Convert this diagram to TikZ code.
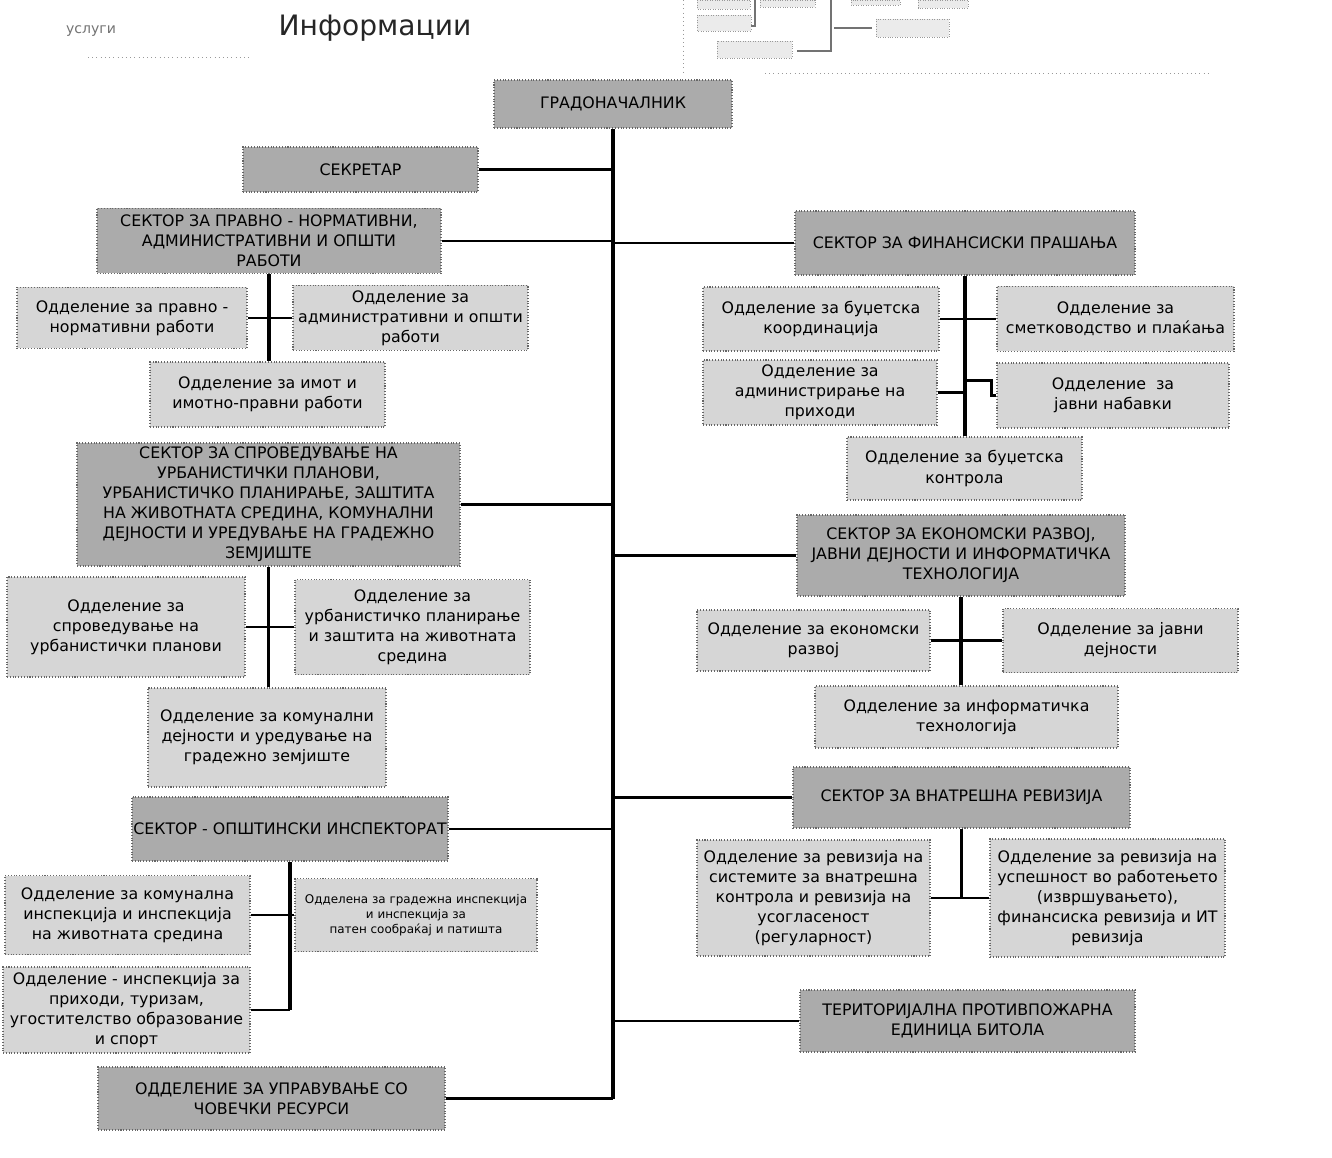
\documentclass[tikz,border=0pt]{standalone}
\usepackage{fontspec}
\setmainfont{DejaVu Sans}
\usetikzlibrary{calc}

\tikzset{
  boxsize/.style 2 args={minimum width=#1*0.02cm, minimum height=#2*0.02cm},
  unit/.style={draw=black!60, densely dotted, line width=0.6pt, inner sep=0pt,
    align=center, font=\fontsize{9}{11.4}\selectfont},
  sector/.style={unit, fill=black!33},
  dept/.style={unit, fill=black!16},
  trunk/.style={line width=1.8pt},
  link/.style={line width=1.4pt},
  scrap/.style={draw=black!40, densely dotted, fill=black!8, line width=0.4pt},
}

\begin{document}
\begin{tikzpicture}[x=0.02cm, y=-0.02cm]
    \useasboundingbox (0,0) rectangle (1332,1158);
    % Page header
    \node[text=black!55, font=\fontsize{8}{9}\selectfont] (services) at (91,31) {услуги};
    \node[text=black!85, font=\fontsize{16}{19}\selectfont] (info) at (375,28) {Информации};
    \draw[black!40, dotted] (88,57) -- (250,57);
    \draw[black!40, dotted] (683,0) -- (683,72);
    \draw[black!40, dotted] (765,73) -- (1210,73);
    % Cut-off chart fragment at the top
    \draw[scrap] (697,0) rectangle (750,9);
    \draw[scrap] (760,0) rectangle (815,7);
    \draw[scrap] (851,0) rectangle (900,5);
    \draw[scrap] (918,0) rectangle (968,8);
    \draw[scrap] (697,15) rectangle (751,31);
    \draw[scrap] (717,41) rectangle (792,58);
    \draw[scrap] (876,19) rectangle (949,37);
    \draw[black!55, line width=0.8pt] (755,0) -- (755,26) -- (751,26);
    \draw[black!55, line width=0.8pt] (831,0) -- (831,51) -- (797,51);
    \draw[black!55, line width=0.8pt] (834,28) -- (872,28);

    % Mayor and secretary
    \node[sector, boxsize={238}{48}] (mayor) at (613,104) {ГРАДОНАЧАЛНИК};
    \node[sector, boxsize={235}{45}] (secretary) at (360.5,169.5) {СЕКРЕТАР};

    % Legal sector
    \node[sector, boxsize={344}{65}] (legal) at (269,241) {СЕКТОР ЗА ПРАВНО - НОРМАТИВНИ,\\АДМИНИСТРАТИВНИ И ОПШТИ\\РАБОТИ};
    \node[dept, boxsize={230}{61}] (legalnorm) at (132,318) {Одделение за правно -\\нормативни работи};
    \node[dept, boxsize={235}{65}] (adminwork) at (410.5,318) {Одделение за\\административни и општи\\работи};
    \node[dept, boxsize={235}{65}] (property) at (267.5,394.5) {Одделение за имот и\\имотно-правни работи};

    % Finance sector
    \node[sector, boxsize={340}{64}] (finance) at (965,243) {СЕКТОР ЗА ФИНАНСИСКИ ПРАШАЊА};
    \node[dept, boxsize={236}{64}] (budgetco) at (821,319) {Одделение за буџетска\\координација};
    \node[dept, boxsize={237}{65}] (accounting) at (1115.5,319) {Одделение за\\сметководство и плаќања};
    \node[dept, boxsize={234}{65}] (revenue) at (820,392.5) {Одделение за\\администрирање на\\приходи};
    \node[dept, boxsize={232}{65}] (procure) at (1113,395.5) {Одделение \ за\\јавни набавки};
    \node[dept, boxsize={235}{63}] (budgetctl) at (964.5,468.5) {Одделение за буџетска\\контрола};

    % Urban planning sector
    \node[sector, boxsize={383}{123}] (urban) at (268.5,504.5) {СЕКТОР ЗА СПРОВЕДУВАЊЕ НА\\УРБАНИСТИЧКИ ПЛАНОВИ,\\УРБАНИСТИЧКО ПЛАНИРАЊЕ, ЗАШТИТА\\НА ЖИВОТНАТА СРЕДИНА, КОМУНАЛНИ\\ДЕЈНОСТИ И УРЕДУВАЊЕ НА ГРАДЕЖНО\\ЗЕМЈИШТЕ};
    \node[dept, boxsize={238}{100}] (urbimpl) at (126,627) {Одделение за\\спроведување на\\урбанистички планови};
    \node[dept, boxsize={235}{95}] (urbplan) at (412.5,627) {Одделение за\\урбанистичко планирање\\и заштита на животната\\средина};
    \node[dept, boxsize={238}{99}] (communal) at (267,737.5) {Одделение за комунални\\дејности и уредување на\\градежно земјиште};

    % Economy sector
    \node[sector, boxsize={328}{81}] (econ) at (961,555.5) {СЕКТОР ЗА ЕКОНОМСКИ РАЗВОЈ,\\ЈАВНИ ДЕЈНОСТИ И ИНФОРМАТИЧКА\\ТЕХНОЛОГИЈА};
    \node[dept, boxsize={233}{61}] (econdev) at (813.5,640.5) {Одделение за економски\\развој};
    \node[dept, boxsize={235}{64}] (publicact) at (1120.5,640.5) {Одделение за јавни\\дејности};
    \node[dept, boxsize={303}{62}] (itdept) at (966.5,717) {Одделение за информатичка\\технологија};

    % Internal audit sector
    \node[sector, boxsize={337}{61}] (audit) at (961.5,797.5) {СЕКТОР ЗА ВНАТРЕШНА РЕВИЗИЈА};
    \node[dept, boxsize={233}{116}] (auditsys) at (813.5,898) {Одделение за ревизија на\\системите за внатрешна\\контрола и ревизија на\\усогласеност\\(регуларност)};
    \node[dept, boxsize={235}{118}] (auditperf) at (1107.5,898) {Одделение за ревизија на\\успешност во работењето\\(извршувањето),\\финансиска ревизија и ИТ\\ревизија};

    % Inspectorate sector
    \node[sector, boxsize={316}{64}] (insp) at (290,829) {СЕКТОР - ОПШТИНСКИ ИНСПЕКТОРАТ};
    \node[dept, boxsize={245}{79}] (cominsp) at (127.5,915) {Одделение за комунална\\инспекција и инспекција\\на животната средина};
    \node[dept, boxsize={242}{73}, font=\fontsize{6.8}{8.5}\selectfont] (buildinsp) at (416,915) {Одделена за градежна инспекција\\и инспекција за\\патен сообраќај и патишта};
    \node[dept, boxsize={247}{86}] (revinsp) at (126.5,1010) {Одделение - инспекција за\\приходи, туризам,\\угостителство образование\\и спорт};

    % Fire unit and human resources
    \node[sector, boxsize={335}{62}] (fire) at (967.5,1021) {ТЕРИТОРИЈАЛНА ПРОТИВПОЖАРНА\\ЕДИНИЦА БИТОЛА};
    \node[sector, boxsize={347}{63}] (hr) at (271.5,1098.5) {ОДДЕЛЕНИЕ ЗА УПРАВУВАЊЕ СО\\ЧОВЕЧКИ РЕСУРСИ};

    % Main trunk and branches
    \draw[trunk] (mayor.south) -- (mayor.south |- hr.east);
    \foreach \n in {secretary,legal,urban,insp,hr}
        \draw[link] (\n.east) -- (\n.east -| mayor.south);
    \foreach \n in {finance,econ,audit,fire}
        \draw[link] (\n.west) -- (\n.west -| mayor.south);

    % Legal departments
    \draw[trunk] (legal.south) -- (legal.south |- property.north);
    \draw[link] (legalnorm.east) -- (adminwork.west);
    % Finance departments
    \draw[trunk] (finance.south) -- (finance.south |- budgetctl.north);
    \draw[link] (budgetco.east) -- (accounting.west);
    \draw[link] (revenue.east) -- (revenue.east -| finance.south);
    \draw[link] (procure.west) -- ++(-5,0) -- ++(0,-15) coordinate (kink) -- (kink -| finance.south);
    % Urban planning departments
    \draw[trunk] (urban.south) -- (urban.south |- communal.north);
    \draw[link] (urbimpl.east) -- (urbplan.west);
    % Economy departments
    \draw[trunk] (econ.south) -- (econ.south |- itdept.north);
    \draw[link] (econdev.east) -- (publicact.west);
    % Audit departments
    \draw[trunk] (audit.south) -- (audit.south |- auditsys.east);
    \draw[link] (auditsys.east) -- (auditperf.west);
    % Inspectorate departments
    \draw[trunk] (insp.south) -- (insp.south |- revinsp.east);
    \draw[link] (cominsp.east) -- (buildinsp.west);
    \draw[link] (revinsp.east) -- (revinsp.east -| insp.south);
\end{tikzpicture}
\end{document}
